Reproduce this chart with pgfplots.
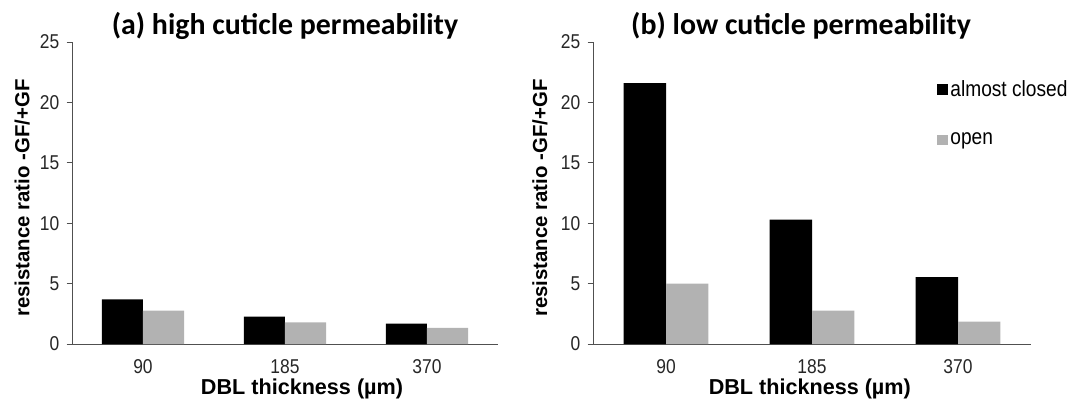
\documentclass[border=0pt]{standalone}
\usepackage{pgfplots}
\pgfplotsset{compat=1.18}
\usepackage{fontspec}
\setmainfont{Liberation Sans}
\newfontfamily\narrowfont{Liberation Sans}[FakeStretch=0.87]
\newfontfamily\titlefont{Carlito}

\definecolor{barblack}{RGB}{0,0,0}
\definecolor{bargray}{RGB}{178,178,178}
\definecolor{axisgray}{RGB}{80,80,80}

% DBL thickness categories: 90, 185, 370 um
\pgfplotstableread{
x closed open
0 3.70 2.77
1 2.26 1.79
2 1.68 1.34
}\hightable
\pgfplotstableread{
x closed open
0 21.6 5.00
1 10.3 2.77
2 5.54 1.85
}\lowtable

\pgfplotsset{
  panel/.style={
    scale only axis,
    height=226.5pt,
    ymin=0, ymax=25,
    ytick={0,5,...,25},
    xmin=-0.5, xmax=2.5,
    xtick={0,1,2},
    xticklabels={90,185,370},
    major x tick style={draw=none},
    extra x ticks={-0.5,0.5,1.5,2.5},
    extra x tick labels={},
    extra x tick style={major tick length=5pt, tick style={axisgray, line width=0.6pt}},
    axis x line=bottom,
    axis y line=left,
    axis line style={-, axisgray, line width=0.6pt},
    tick align=outside,
    major tick length=4pt,
    tick style={axisgray, line width=0.6pt},
    tick label style={font=\narrowfont\fontsize{15}{17}\selectfont, text=black!85},
    /pgf/number format/assume math mode=true,
    yticklabel style={xshift=-2pt},
    xticklabel style={yshift=-4pt},
    ylabel={resistance ratio -GF/+GF},
    xlabel={DBL thickness (\textmu m)},
    ylabel style={font=\bfseries\fontsize{15.3}{17}\selectfont},
    xlabel style={font=\bfseries\fontsize{16.2}{18}\selectfont},
    title style={font=\titlefont\bfseries\fontsize{22.4}{24}\selectfont},
    clip=false,
  },
  closedbar/.style={ybar, bar width=0.29, bar shift=-0.145, fill=barblack, draw=none},
  openbar/.style={ybar, bar width=0.29, bar shift=0.145, fill=bargray, draw=none},
}

\begin{document}
\begin{tikzpicture}
\path[use as bounding box] (0,0) rectangle (812.25pt,309pt);

% (a) high cuticle permeability
\begin{axis}[panel,
  at={(54pt,51pt)}, anchor=south west,
  width=319.5pt,
  title={(a) high cuticle permeability},
  title style={at={(axis description cs:0.5,1.028)}, anchor=center},
  ylabel style={at={(axis description cs:-0.117,0.483)}, anchor=center},
  xlabel style={at={(axis description cs:0.54,-0.15)}, anchor=center},
]
\addplot[closedbar] table[x=x, y=closed] {\hightable};
\addplot[openbar] table[x=x, y=open] {\hightable};
\end{axis}

% (b) low cuticle permeability
\begin{axis}[panel,
  at={(444.75pt,51pt)}, anchor=south west,
  width=328.5pt,
  title={(b) low cuticle permeability},
  title style={at={(axis description cs:0.475,1.028)}, anchor=center},
  ylabel style={at={(axis description cs:-0.121,0.483)}, anchor=center},
  xlabel style={at={(axis description cs:0.495,-0.15)}, anchor=center},
  legend style={at={(axis description cs:0.785,0.763)}, anchor=west,
    draw=none, fill=none, font=\narrowfont\fontsize{16.5}{18}\selectfont,
    row sep=22pt, inner sep=0pt,
    /tikz/every even column/.append style={column sep=2pt}},
  legend cell align=left,
  legend image code/.code={\fill[#1] (0pt,-4pt) rectangle (8pt,4pt);},
]
\addplot[closedbar] table[x=x, y=closed] {\lowtable};
\addlegendentry{almost closed}
\addplot[openbar] table[x=x, y=open] {\lowtable};
\addlegendentry{open}
\end{axis}
\end{tikzpicture}
\end{document}
